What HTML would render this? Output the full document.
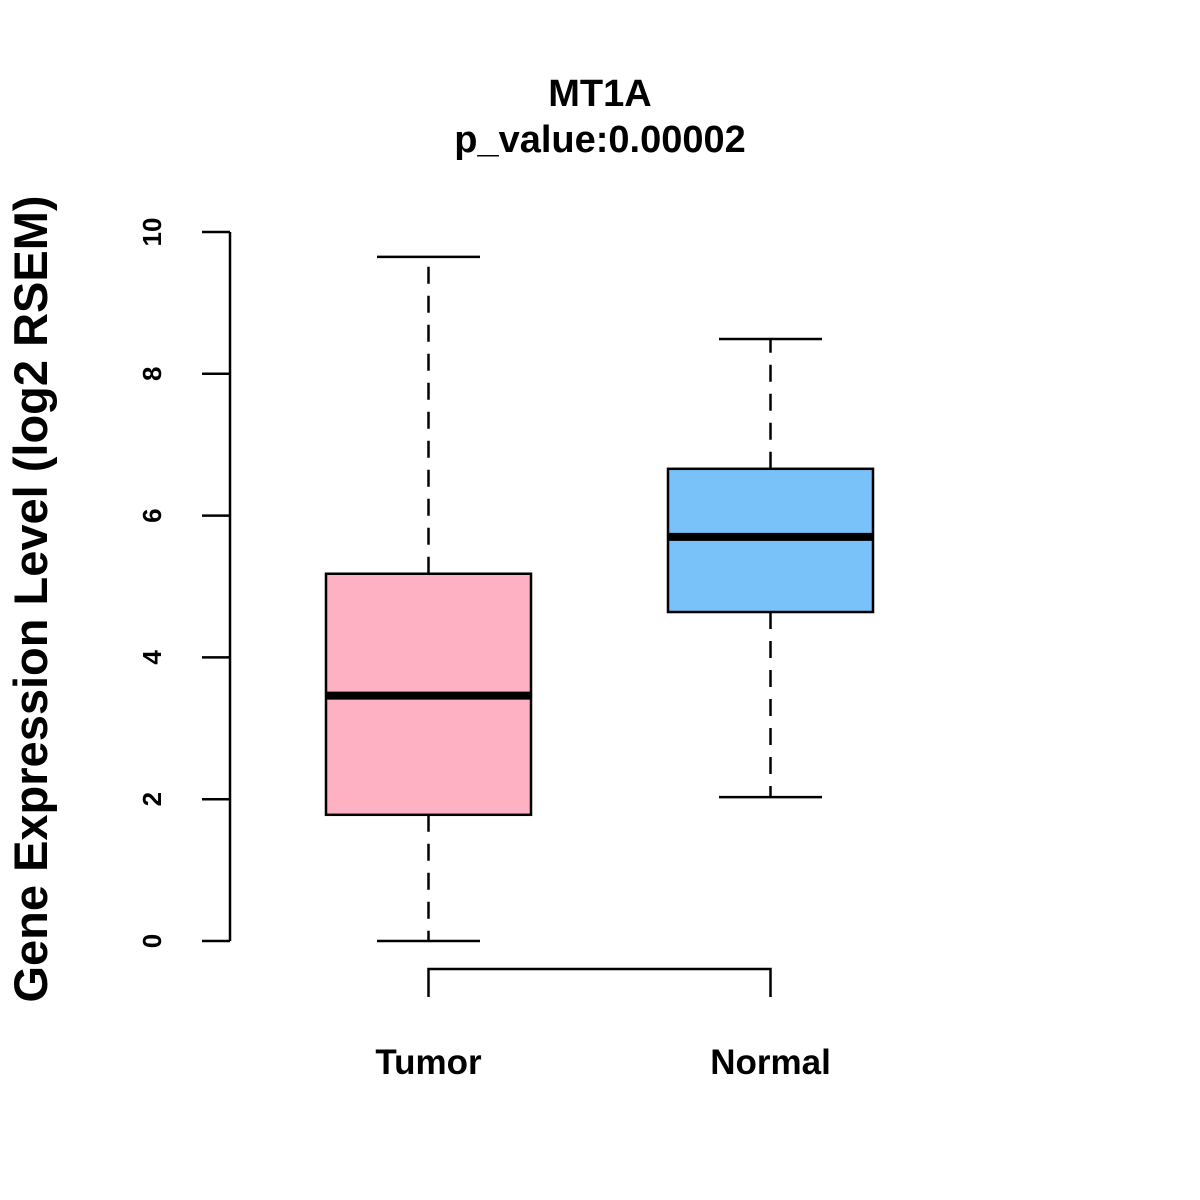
<!DOCTYPE html>
<html><head><meta charset="utf-8"><style>
html,body{margin:0;padding:0;background:#fff;}
svg{display:block;font-family:"Liberation Sans",Arial,sans-serif;font-weight:bold;}
</style></head><body>
<svg id="chart" width="1200" height="1200" viewBox="0 0 1200 1200">
<rect width="1200" height="1200" fill="#fff"/>
<text x="600" y="106" text-anchor="middle" font-size="38">MT1A</text>
<text x="600" y="152" text-anchor="middle" font-size="38">p_value:0.00002</text>
<text transform="translate(47,599) rotate(-90)" text-anchor="middle" font-size="47">Gene Expression Level (log2 RSEM)</text>
<g id="yaxis"></g>
<g id="boxes"></g>
<g id="bracket"></g>
</svg>
<script>
const categories = ["Tumor", "Normal"];
const whiskerLow = [0, 2.03];
const q1 = [1.78, 4.64];
const medians = [3.46, 5.70];
const q3 = [5.18, 6.66];
const whiskerHigh = [9.65, 8.49];
const colors = ["#FDB1C3", "#78C1F9"];
const yTicks = [0, 2, 4, 6, 8, 10];

const NS = "http://www.w3.org/2000/svg";
function y(v){ return 941 - v * 70.9; }
function x(i){ return 428.5 + i * 342; }
function mk(tag, attrs, parent){
  const e = document.createElementNS(NS, tag);
  for (const k in attrs) e.setAttribute(k, attrs[k]);
  parent.appendChild(e); return e;
}
const ya = document.getElementById("yaxis");
const l = mk("line", {x1:230, x2:230, y1:y(yTicks[0]), y2:y(yTicks[yTicks.length-1]), stroke:"#000", "stroke-width":2.5}, ya);


yTicks.forEach(t => {
  const tk = mk("line", {x1:202, x2:230, y1:y(t), y2:y(t), stroke:"#000", "stroke-width":2.5}, ya);
  
  
  const tx = mk("text", {transform:`translate(161,${y(t)}) rotate(-90)`, "text-anchor":"middle", "font-size":26}, ya);
  tx.textContent = t;
  
  
});
const bx = document.getElementById("boxes");
categories.forEach((c, i) => {
  const cx = x(i), hw = 102.5, cw = 51.5;
  const g = mk("g", {}, bx);
  
  
  mk("line", {x1:cx, x2:cx, y1:y(q3[i]), y2:y(whiskerHigh[i]), stroke:"#000", "stroke-width":2.5, "stroke-dasharray":"17,12"}, g);
  mk("line", {x1:cx, x2:cx, y1:y(q1[i]), y2:y(whiskerLow[i]), stroke:"#000", "stroke-width":2.5, "stroke-dasharray":"17,12"}, g);
  mk("line", {x1:cx-cw, x2:cx+cw, y1:y(whiskerHigh[i]), y2:y(whiskerHigh[i]), stroke:"#000", "stroke-width":2.5}, g);
  mk("line", {x1:cx-cw, x2:cx+cw, y1:y(whiskerLow[i]), y2:y(whiskerLow[i]), stroke:"#000", "stroke-width":2.5}, g);
  mk("rect", {x:cx-hw, y:y(q3[i]), width:hw*2, height:y(q1[i])-y(q3[i]), fill:colors[i], stroke:"#000", "stroke-width":2.5}, g);
  mk("line", {x1:cx-hw, x2:cx+hw, y1:y(medians[i]), y2:y(medians[i]), stroke:"#000", "stroke-width":8}, g);
  const lb = mk("text", {x:cx, y:1074, "text-anchor":"middle", "font-size":35}, bx);
  lb.textContent = c;
  
  
});
const br = document.getElementById("bracket");
const p = mk("path", {d:`M${x(0)},997 V969 H${x(1)} V997`, fill:"none", stroke:"#000", "stroke-width":2.5}, br);


</script>
</body></html>
